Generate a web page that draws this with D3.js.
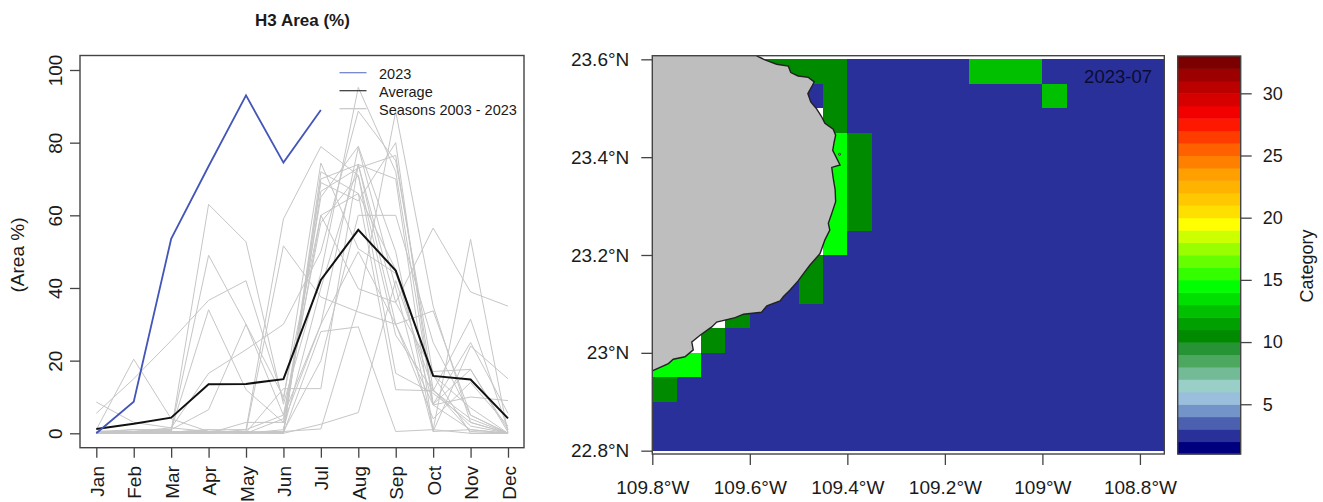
<!DOCTYPE html>
<html>
<head>
<meta charset="utf-8">
<script src="https://cdn.jsdelivr.net/npm/d3@7"></script>
<style>
  html, body { margin: 0; padding: 0; background: #fff; }
  svg { display: block; }
  text { font-family: "Liberation Sans", Arial, sans-serif; fill: #1a1a1a; }
</style>
</head>
<body>
<div id="vis_result"></div>
<script>
// values
var months = ['Jan', 'Feb', 'Mar', 'Apr', 'May', 'Jun', 'Jul', 'Aug', 'Sep', 'Oct', 'Nov', 'Dec']
var yTicks = [0, 20, 40, 60, 80, 100]

var current = [0, 8.7, 53.5, 73.5, 93, 74.5, 89]
var average = [1.2, 2.6, 4.3, 13.5, 13.6, 14.9, 42.2, 56, 44.8, 15.8, 14.8, 4.1]

var seasons = [
    [5.5, 15, 25.5, 36.6, 42, 9, 74.4, 50.8, 44, 16, 7, 0],
    [8.6, 3, 1.5, 0.5, 0.3, 0.2, 66.6, 73, 76.5, 12, 0.5, 0],
    [1, 20.4, 4, 0.5, 0.2, 0, 69, 64, 80, 8, 17.6, 0.3],
    [0.5, 1, 0.5, 63, 52.7, 8, 44, 95.2, 72, 7.8, 1, 0],
    [0, 0.5, 0.8, 49, 30, 5, 58, 71, 27, 11.7, 4, 0],
    [0.2, 1, 1, 34, 12, 3, 30, 78.7, 40, 0.5, 1, 0],
    [0, 0.2, 1, 6.5, 30, 10, 60, 66, 45, 8, 25, 5.5],
    [0.3, 0.5, 1.5, 16.5, 23, 30, 50, 88.7, 75, 16, 0, 0],
    [0, 0, 0.3, 1, 1, 59, 78.9, 71, 16.5, 11, 3, 0],
    [0, 0, 0.5, 0.5, 0.5, 51.6, 37.5, 33.4, 30, 33.7, 5, 0],
    [0, 0.2, 0, 0.3, 0.2, 12.3, 12.3, 74, 36, 17, 17.6, 1],
    [0.5, 0.5, 0.2, 0.2, 0, 0, 28, 29.3, 0.5, 1, 0, 0],
    [0, 0, 0.3, 0.2, 0.5, 0, 2.5, 5.7, 42, 12, 2, 0],
    [0, 0, 0.2, 0, 0.3, 0.5, 1.2, 35.4, 88.6, 35, 3, 0],
    [0.3, 0, 0, 0, 3, 3, 60, 39.8, 36, 56.5, 38.9, 35],
    [0, 0.5, 0.3, 1, 0, 4, 65, 79, 50, 1, 53.4, 0],
    [0.2, 0, 0.5, 0, 0.3, 0, 72, 66, 12, 11.7, 31.4, 1],
    [0, 0, 0, 0.3, 0, 1, 40, 74, 70, 0.5, 24, 15],
    [0, 0.3, 0, 0, 1, 5, 30, 50, 30, 7.8, 10, 9],
    [0, 0, 0, 0.3, 0.2, 0.5, 70, 74, 30, 4, 14, 2],
    [0, 0, 0.2, 0.1, 0, 0.5, 20, 60, 60, 25, 5, 0]
]

var legendLabels = ['2023', 'Average', 'Seasons 2003 - 2023']

// raster of categories, 0.05 degree cells, 0 = no data
var gridLons = d3.range(21).map(function (i) { return -109.8 + i * 0.05 })
var gridLats = d3.range(16).map(function (i) { return 23.6 - i * 0.05 })
var gridCells = [
    [0, 0, 0, 0, 10, 10, 10, 10, 2, 2, 2, 2, 2, 12, 12, 12, 2, 2, 2, 2, 2],
    [0, 0, 0, 0, 0, 0, 2, 10, 2, 2, 2, 2, 2, 2, 2, 2, 12, 2, 2, 2, 2],
    [0, 0, 0, 0, 0, 0, 0, 10, 2, 2, 2, 2, 2, 2, 2, 2, 2, 2, 2, 2, 2],
    [0, 0, 0, 0, 0, 0, 0, 14, 10, 2, 2, 2, 2, 2, 2, 2, 2, 2, 2, 2, 2],
    [0, 0, 0, 0, 0, 0, 0, 14, 10, 2, 2, 2, 2, 2, 2, 2, 2, 2, 2, 2, 2],
    [0, 0, 0, 0, 0, 0, 0, 14, 10, 2, 2, 2, 2, 2, 2, 2, 2, 2, 2, 2, 2],
    [0, 0, 0, 0, 0, 0, 0, 14, 10, 2, 2, 2, 2, 2, 2, 2, 2, 2, 2, 2, 2],
    [0, 0, 0, 0, 0, 0, 0, 14, 2, 2, 2, 2, 2, 2, 2, 2, 2, 2, 2, 2, 2],
    [0, 0, 0, 0, 0, 0, 10, 2, 2, 2, 2, 2, 2, 2, 2, 2, 2, 2, 2, 2, 2],
    [0, 0, 0, 0, 0, 2, 10, 2, 2, 2, 2, 2, 2, 2, 2, 2, 2, 2, 2, 2, 2],
    [0, 0, 0, 10, 2, 2, 2, 2, 2, 2, 2, 2, 2, 2, 2, 2, 2, 2, 2, 2, 2],
    [0, 0, 10, 2, 2, 2, 2, 2, 2, 2, 2, 2, 2, 2, 2, 2, 2, 2, 2, 2, 2],
    [14, 14, 2, 2, 2, 2, 2, 2, 2, 2, 2, 2, 2, 2, 2, 2, 2, 2, 2, 2, 2],
    [10, 2, 2, 2, 2, 2, 2, 2, 2, 2, 2, 2, 2, 2, 2, 2, 2, 2, 2, 2, 2],
    [2, 2, 2, 2, 2, 2, 2, 2, 2, 2, 2, 2, 2, 2, 2, 2, 2, 2, 2, 2, 2],
    [2, 2, 2, 2, 2, 2, 2, 2, 2, 2, 2, 2, 2, 2, 2, 2, 2, 2, 2, 2, 2]
]

// coast from north to south
var coastLons = [-109.586, -109.569, -109.545, -109.521, -109.516, -109.501, -109.48, -109.468, -109.473, -109.481,
    -109.475, -109.464, -109.453, -109.446, -109.429, -109.424, -109.427, -109.43, -109.422, -109.415,
    -109.432, -109.429, -109.425, -109.424, -109.432, -109.439, -109.436, -109.446, -109.456, -109.477,
    -109.49, -109.501, -109.518, -109.531, -109.538, -109.565, -109.576, -109.613, -109.63, -109.668,
    -109.678, -109.702, -109.719, -109.716, -109.733, -109.757, -109.767, -109.8]
var coastLats = [23.607, 23.599, 23.59, 23.586, 23.573, 23.566, 23.563, 23.554, 23.544, 23.53,
    23.513, 23.5, 23.483, 23.469, 23.457, 23.445, 23.431, 23.414, 23.398, 23.384,
    23.379, 23.357, 23.333, 23.309, 23.285, 23.265, 23.251, 23.231, 23.203, 23.179,
    23.162, 23.147, 23.128, 23.115, 23.106, 23.096, 23.083, 23.079, 23.072, 23.063,
    23.053, 23.036, 23.022, 23.006, 22.992, 22.987, 22.978, 22.963]
var islandLon = [-109.416]
var islandLat = [23.406]

var lonTicks = [-109.8, -109.6, -109.4, -109.2, -109, -108.8]
var latTicks = [22.8, 23, 23.2, 23.4, 23.6]
var mapLabel = '2023-07'

// colour bar, lowest band first
var barColors = ['#00007f', '#29309a', '#4c60b0', '#7394c8', '#99bfdc', '#99cfc6', '#73ba96', '#4ca85f', '#269434',
    '#008a00', '#00a000', '#00c000', '#00e000', '#00ff00', '#33ff00', '#66ff00', '#99ff00', '#ccff00', '#ffff00',
    '#ffdf00', '#ffc800', '#ffb300', '#ff9f00', '#ff7f00', '#ff6000', '#ff3c00', '#ff1800', '#f20000', '#d60000',
    '#bb0000', '#9d0000', '#7d0000']
var barTicks = [5, 10, 15, 20, 25, 30]

var boxColor = '#444'
var grey = '#c6c6c6'

var svg = d3.select('#vis_result').append('svg')
    .attr('width', 1323)
    .attr('height', 502)

function styleAxis(g) {
    g.select('.domain').remove()
    g.selectAll('line').attr('stroke', boxColor).attr('stroke-width', 1.3)
    g.selectAll('text').attr('fill', '#1a1a1a').style('font-size', '19px')
}

function drawBox(x0, y0, x1, y1) {
    svg.append('rect')
        .attr('x', x0).attr('y', y0)
        .attr('width', x1 - x0).attr('height', y1 - y0)
        .attr('fill', 'none')
        .attr('stroke', boxColor)
        .attr('stroke-width', 1.4)
}

// left panel
function drawLines() {
    var left = 80, right = 524, top = 55.5, bottom = 447.7

    var x = d3.scalePoint().domain(months).range([96.3, 508])
    var y = d3.scaleLinear().domain([0, 100]).range([433.3, 70])

    var line = d3.line()
        .x(function (d, i) { return x(months[i]) })
        .y(function (d) { return y(d) })

    svg.append('g').selectAll('path')
        .data(seasons)
        .enter()
        .append('path')
        .attr('d', line)
        .attr('fill', 'none')
        .attr('stroke', grey)
        .attr('stroke-width', 1)

    svg.append('path').attr('d', line(average))
        .attr('fill', 'none').attr('stroke', '#111').attr('stroke-width', 2)
    svg.append('path').attr('d', line(current))
        .attr('fill', 'none').attr('stroke', '#4355b8').attr('stroke-width', 1.8)

    drawBox(left, top, right, bottom)

    svg.append('g')
        .attr('transform', 'translate(0,' + bottom + ')')
        .call(d3.axisBottom(x).tickSize(10))
        .call(styleAxis)
        .selectAll('text')
        .attr('transform', 'rotate(-90)')
        .attr('x', -18.3).attr('y', 7).attr('dy', 0)
        .style('text-anchor', 'end')

    svg.append('g')
        .attr('transform', 'translate(' + left + ',0)')
        .call(d3.axisLeft(y).tickValues(yTicks).tickSize(10))
        .call(styleAxis)
        .selectAll('text')
        .attr('transform', 'rotate(-90)')
        .attr('x', 0).attr('y', -18).attr('dy', 0)
        .style('text-anchor', 'middle')

    svg.append('text')
        .attr('transform', 'translate(24,255) rotate(-90)')
        .attr('text-anchor', 'middle')
        .style('font-size', '19px')
        .text('(Area %)')

    svg.append('text')
        .attr('x', 302.5).attr('y', 26)
        .attr('text-anchor', 'middle')
        .style('font-size', '17px')
        .style('font-weight', 'bold')
        .text('H3 Area (%)')

    // legend
    var legendColors = ['#6f7cc8', '#333', grey]
    var rows = d3.scalePoint().domain(legendLabels).range([72.7, 108.7])
    var legend = svg.append('g').selectAll('g')
        .data(legendLabels)
        .enter()
        .append('g')
        .attr('transform', function (d) { return 'translate(0,' + rows(d) + ')' })
    legend.append('line')
        .attr('x1', 339.5).attr('x2', 366.5)
        .attr('stroke', function (d, i) { return legendColors[i] })
        .attr('stroke-width', 1.2)
    legend.append('text')
        .attr('x', 379).attr('y', 6.2)
        .style('font-size', '14.5px')
        .text(function (d) { return d })
}

// right panel
function drawMap() {
    var left = 652.3, right = 1164.3, top = 55.7, bottom = 454

    var x = d3.scaleLinear().domain([-109.8, -108.75]).range([left, right])
    var y = d3.scaleLinear().domain([22.7932, 23.6074]).range([bottom, top])
    var colour = d3.scaleQuantize().domain([1, 33]).range(barColors)

    svg.append('defs').append('clipPath').attr('id', 'map-clip')
        .append('rect')
        .attr('x', left).attr('y', top)
        .attr('width', right - left).attr('height', bottom - top)

    var map = svg.append('g').attr('clip-path', 'url(#map-clip)')

    gridCells.forEach(function (row, r) {
        map.append('g').selectAll('rect')
            .data(row)
            .enter()
            .append('rect')
            .attr('x', function (d, c) { return x(gridLons[c]) })
            .attr('y', y(gridLats[r]))
            .attr('width', x(-109.75) - x(-109.8))
            .attr('height', y(23.55) - y(23.6))
            .attr('fill', function (d) { return d ? colour(d) : '#fff' })
            .attr('shape-rendering', 'crispEdges')
    })

    var coast = d3.zip(coastLons, coastLats)
    var land = coast.concat([[-109.8, 23.607]])

    map.append('path')
        .attr('d', d3.line().x(function (d) { return x(d[0]) }).y(function (d) { return y(d[1]) })(land) + 'Z')
        .attr('fill', '#bebebe')
    map.append('path')
        .attr('d', d3.line().x(function (d) { return x(d[0]) }).y(function (d) { return y(d[1]) })(coast))
        .attr('fill', 'none')
        .attr('stroke', '#222')
        .attr('stroke-width', 1.4)
    map.append('circle')
        .attr('cx', x(islandLon[0])).attr('cy', y(islandLat[0])).attr('r', 1)
        .attr('fill', '#bebebe').attr('stroke', '#222')

    map.append('text')
        .attr('x', 1152).attr('y', 82.5)
        .attr('text-anchor', 'end')
        .style('font-size', '18.5px')
        .style('fill', '#0c0c30')
        .text(mapLabel)

    drawBox(left, top, right, bottom)

    svg.append('g')
        .attr('transform', 'translate(0,' + bottom + ')')
        .call(d3.axisBottom(x).tickValues(lonTicks).tickSize(11)
            .tickFormat(function (d) { return Math.abs(d) + '°W' }))
        .call(styleAxis)
        .selectAll('text')
        .attr('y', 40).attr('dy', 0)

    svg.append('g')
        .attr('transform', 'translate(' + left + ',0)')
        .call(d3.axisLeft(y).tickValues(latTicks).tickSize(11).tickPadding(12)
            .tickFormat(function (d) { return d + '°N' }))
        .call(styleAxis)
}

// colour bar
function drawBar() {
    var left = 1177.7, right = 1240.7

    var y = d3.scaleLinear().domain([1, 33]).range([454, 56])

    svg.append('g').selectAll('rect')
        .data(barColors)
        .enter()
        .append('rect')
        .attr('x', left)
        .attr('y', function (d, i) { return y(i + 2) })
        .attr('width', right - left)
        .attr('height', y(1) - y(2) + 0.5)
        .attr('fill', function (d) { return d })

    drawBox(left, y(33), right, y(1))

    svg.append('g')
        .attr('transform', 'translate(' + right + ',0)')
        .call(d3.axisRight(y).tickValues(barTicks).tickSize(11).tickPadding(11))
        .call(styleAxis)
        .selectAll('text')
        .style('font-size', '18px')

    svg.append('text')
        .attr('transform', 'translate(1313,266) rotate(-90)')
        .attr('text-anchor', 'middle')
        .style('font-size', '18px')
        .text('Category')
}

drawLines()
drawMap()
drawBar()
</script>
</body>
</html>
